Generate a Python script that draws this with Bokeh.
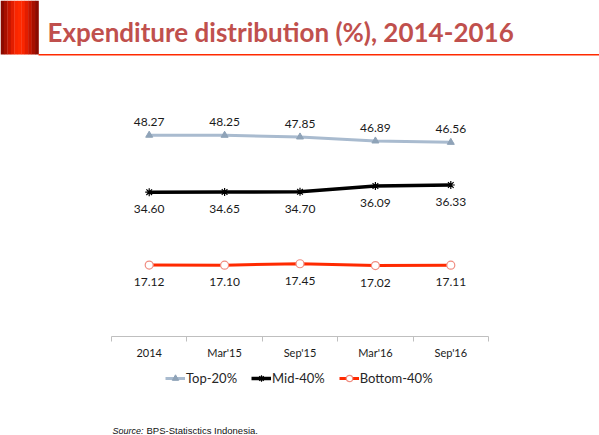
from bokeh.plotting import figure
from bokeh.models import (ColumnDataSource, FixedTicker, Range1d, Label, BoxAnnotation,
                          Legend, LegendItem, LinearAxis)
from bokeh.core.properties import value
from bokeh.embed import file_html
from bokeh.resources import INLINE

# ---- data ----
periods = ["2014", "Mar'15", "Sep'15", "Mar'16", "Sep'16"]
top20 = [48.27, 48.25, 47.85, 46.89, 46.56]
mid40 = [34.60, 34.65, 34.70, 36.09, 36.33]
bottom40 = [17.12, 17.10, 17.45, 17.02, 17.11]
series_names = ["Top-20%", "Mid-40%", "Bottom-40%"]
title_text = "Expenditure distribution (%), 2014-2016"
source_label = "Source:"
source_text = "BPS-Statisctics Indonesia."

xs = [i + 0.5 for i in range(len(periods))]

# ---- layout (canvas pixels) ----
W, H = 599, 435
AX_L, AX_R = 111, 488      # x-axis extent
AX_Y = 336                 # y=0 line
PX_PER_UNIT = 4.17         # vertical scale
xpx = (AX_R - AX_L) / len(periods)
x_range = Range1d(-AX_L / xpx, (W - AX_L) / xpx)
y_range = Range1d(-(H - AX_Y) / PX_PER_UNIT, AX_Y / PX_PER_UNIT)

p = figure(width=W, height=H, output_backend="svg", toolbar_location=None,
           x_range=x_range, y_range=y_range,
           x_axis_location=None, y_axis_location=None,
           min_border=0, min_border_left=0, min_border_right=0,
           min_border_top=0, min_border_bottom=0)
p.outline_line_color = None
p.grid.visible = False
p.background_fill_color = "white"
p.border_fill_color = "white"

ax = LinearAxis(fixed_location=0, bounds=(0, len(periods)))
ax.ticker = FixedTicker(ticks=xs, minor_ticks=list(range(len(periods) + 1)))
ax.major_label_overrides = {x: lab for x, lab in zip(xs, periods)}
ax.major_tick_out = 0
ax.major_tick_in = 0
ax.minor_tick_out = 5
ax.minor_tick_in = 0
ax.minor_tick_line_color = "#BFBFBF"
ax.axis_line_color = "#BFBFBF"
ax.major_label_text_font = "Lato"
ax.major_label_text_font_size = "11px"
ax.major_label_text_color = "#1A1A1A"
ax.major_label_standoff = 4
p.add_layout(ax, "below")

FONT = "Lato"
TOP_C = "#A9BBCF"
MID_C = "#000000"
BOT_C = "#FF2A00"

src = ColumnDataSource(dict(x=xs, top=top20, mid=mid40, bot=bottom40,
                            top_l=[f"{v:.2f}" for v in top20],
                            mid_l=[f"{v:.2f}" for v in mid40],
                            bot_l=[f"{v:.2f}" for v in bottom40]))

l1 = p.line("x", "top", source=src, line_color=TOP_C, line_width=3)
m1 = p.scatter("x", "top", source=src, marker="triangle", size=7,
               fill_color="#8FA3B8", line_color="#8FA3B8")
l2 = p.line("x", "mid", source=src, line_color=MID_C, line_width=3.5)
m2 = p.scatter("x", "mid", source=src, marker="asterisk", size=8,
               line_color="#000000", line_width=1.2)
l3 = p.line("x", "bot", source=src, line_color=BOT_C, line_width=3)
m3 = p.scatter("x", "bot", source=src, marker="circle", size=8,
               fill_color="white", line_color="#F08C80", line_width=1.2)

for col, lab, off in (("top", "top_l", -13), ("mid", "mid_l", 17), ("bot", "bot_l", 17)):
    p.text("x", col, text=lab, source=src, y_offset=off, text_align="center",
           text_baseline="middle", text_font=value(FONT), text_font_size="12px",
           text_color="#1A1A1A")

legend = Legend(items=[LegendItem(label=series_names[0], renderers=[l1, m1]),
                       LegendItem(label=series_names[1], renderers=[l2, m2]),
                       LegendItem(label=series_names[2], renderers=[l3, m3])],
                orientation="horizontal", location=(165, H - 386),
                padding=0, margin=0, spacing=14, glyph_width=20, glyph_height=16,
                label_height=16, label_standoff=1, label_text_font=FONT,
                label_text_font_size="13px", label_text_color="#262626",
                background_fill_alpha=0, border_line_color=None,
                label_text_baseline="middle")
p.add_layout(legend, "center")

# ---- header decoration (screen units: x from left, y from bottom) ----
def sy(cy):
    return H - cy

bar_cols = ["#8B0A00", "#A80F00", "#C61500", "#E21D00", "#FA2600", "#FF2A00",
            "#FA2600", "#E21D00", "#C61500", "#A80F00", "#8B0A00"]
n = len(bar_cols)
bw = 38 / n
for i, c in enumerate(bar_cols):
    p.add_layout(BoxAnnotation(left=i * bw, right=(i + 1) * bw + 0.3, top=sy(0), bottom=sy(54),
                               left_units="screen", right_units="screen",
                               top_units="screen", bottom_units="screen",
                               fill_color=c, fill_alpha=1, line_color=None))
p.add_layout(BoxAnnotation(left=38, right=W, top=sy(53.5), bottom=sy(55),
                           left_units="screen", right_units="screen",
                           top_units="screen", bottom_units="screen",
                           fill_color="#FF2A00", fill_alpha=1, line_color=None))

p.add_layout(Label(x=47, y=sy(31.5), x_units="screen", y_units="screen", text=title_text,
                   text_font=FONT, text_font_style="bold", text_font_size="26px",
                   text_color="#C0504D", text_baseline="alphabetic"))
p.add_layout(Label(x=112, y=sy(430), x_units="screen", y_units="screen", text=source_label,
                   text_font="Liberation Sans", text_font_style="italic", text_font_size="9px",
                   text_color="#111111", text_baseline="alphabetic"))
p.add_layout(Label(x=146, y=sy(430), x_units="screen", y_units="screen", text=source_text,
                   text_font="Liberation Sans", text_font_size="9.5px",
                   text_color="#111111", text_baseline="alphabetic"))

open("out.html", "w").write(file_html(p, INLINE))
